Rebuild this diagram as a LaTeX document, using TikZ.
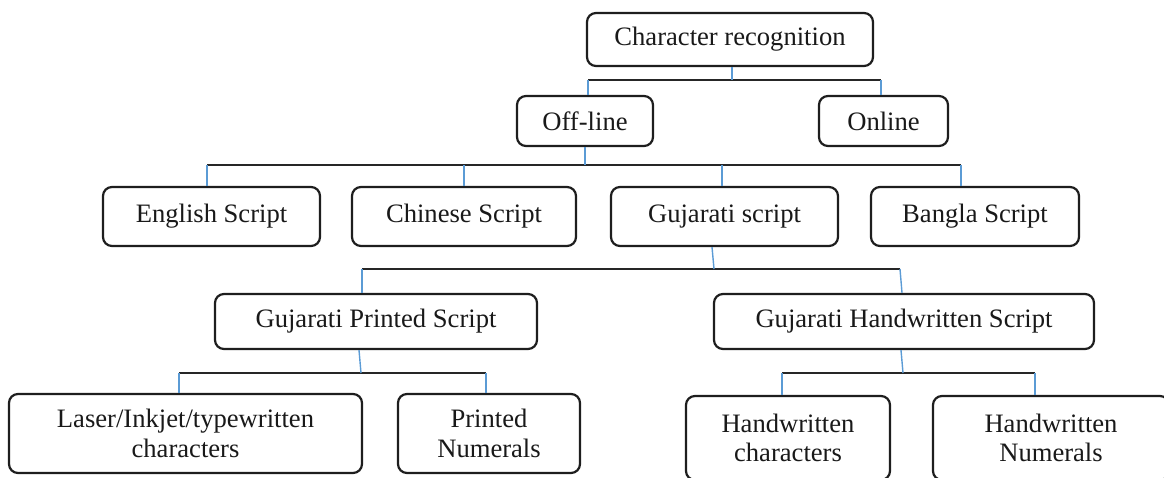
\documentclass[tikz,border=0pt]{standalone}
\usepackage{fontspec}
\setmainfont{Liberation Serif}
\definecolor{boxline}{HTML}{1E1E1E}
\definecolor{linkblue}{HTML}{5B9BD5}
\begin{document}
\begin{tikzpicture}[x=1pt,y=-1pt,
  box/.style={draw=boxline, line width=2.2pt, rounded corners=9pt, fill=white,
    align=center, inner sep=0pt, font=\fontsize{26.6}{29.5}\selectfont, text=black!90},
  bus/.style={draw=black!85, line width=1.6pt},
  vline/.style={draw=linkblue, line width=1.4pt}]
\useasboundingbox (0,0) rectangle (1164,477);
\clip (0,0) rectangle (1164,477);
% nodes
\node[box, minimum width=286pt, minimum height=53pt] (cr) at (730,39.5) {Character recognition};
\node[box, minimum width=136pt, minimum height=50pt] (off) at (585,121) {Off-line};
\node[box, minimum width=129pt, minimum height=50pt] (on) at (883.5,121) {Online};
\node[box, minimum width=217pt, minimum height=59pt] (eng) at (211.5,216.5) {English Script};
\node[box, minimum width=224pt, minimum height=59pt] (chi) at (464,216.5) {Chinese Script};
\node[box, minimum width=227pt, minimum height=59pt] (guj) at (724.5,216.5) {Gujarati script};
\node[box, minimum width=208pt, minimum height=59pt] (ban) at (975,216.5) {Bangla Script};
\node[box, minimum width=322pt, minimum height=55pt] (gps) at (376,321.5) {Gujarati Printed Script};
\node[box, minimum width=380pt, minimum height=55pt] (ghs) at (904,321.5) {Gujarati Handwritten Script};
\node[box, minimum width=353pt, minimum height=79pt] (las) at (185.5,433.5) {Laser/Inkjet/typewritten\\characters};
\node[box, minimum width=182pt, minimum height=79pt] (pn) at (489,433.5) {Printed\\Numerals};
\node[box, minimum width=204pt, minimum height=84pt] (hc) at (788,438) {Handwritten\\characters};
\node[box, minimum width=236pt, minimum height=84pt] (hn) at (1051,438) {Handwritten\\Numerals};
% bus coordinates
\coordinate (b1) at (0,80);
\coordinate (b2) at (0,165);
\coordinate (b3) at (0,269);
\coordinate (b4) at (0,373);
% level 1
\draw[bus] (588,80) -- (881,80);
\draw[vline] (cr.south -| 732,0) -- (b1 -| 732,0);
\draw[vline] (b1 -| 588,0) -- (off.north -| 588,0);
\draw[vline] (b1 -| 881,0) -- (on.north -| 881,0);
% level 2
\draw[bus] (207,165) -- (961,165);
\draw[vline] (off.south -| 585,0) -- (b2 -| 585,0);
\draw[vline] (b2 -| 207,0) -- (eng.north -| 207,0);
\draw[vline] (b2 -| 464,0) -- (chi.north -| 464,0);
\draw[vline] (b2 -| 722,0) -- (guj.north -| 722,0);
\draw[vline] (b2 -| 961,0) -- (ban.north -| 961,0);
% level 3
\draw[bus] (362,269) -- (900,269);
\draw[vline] (guj.south -| 712,0) -- (b3 -| 714,0);
\draw[vline] (b3 -| 362,0) -- (gps.north -| 362,0);
\draw[vline] (b3 -| 900,0) -- (ghs.north -| 902,0);
% level 4
\draw[bus] (179,373) -- (486,373);
\draw[vline] (gps.south -| 359,0) -- (b4 -| 361,0);
\draw[vline] (b4 -| 179,0) -- (las.north -| 179,0);
\draw[vline] (b4 -| 486,0) -- (pn.north -| 486,0);
\draw[bus] (782,373) -- (1035,373);
\draw[vline] (ghs.south -| 901,0) -- (b4 -| 903,0);
\draw[vline] (b4 -| 782,0) -- (hc.north -| 782,0);
\draw[vline] (b4 -| 1035,0) -- (hn.north -| 1035,0);
\end{tikzpicture}
\end{document}
